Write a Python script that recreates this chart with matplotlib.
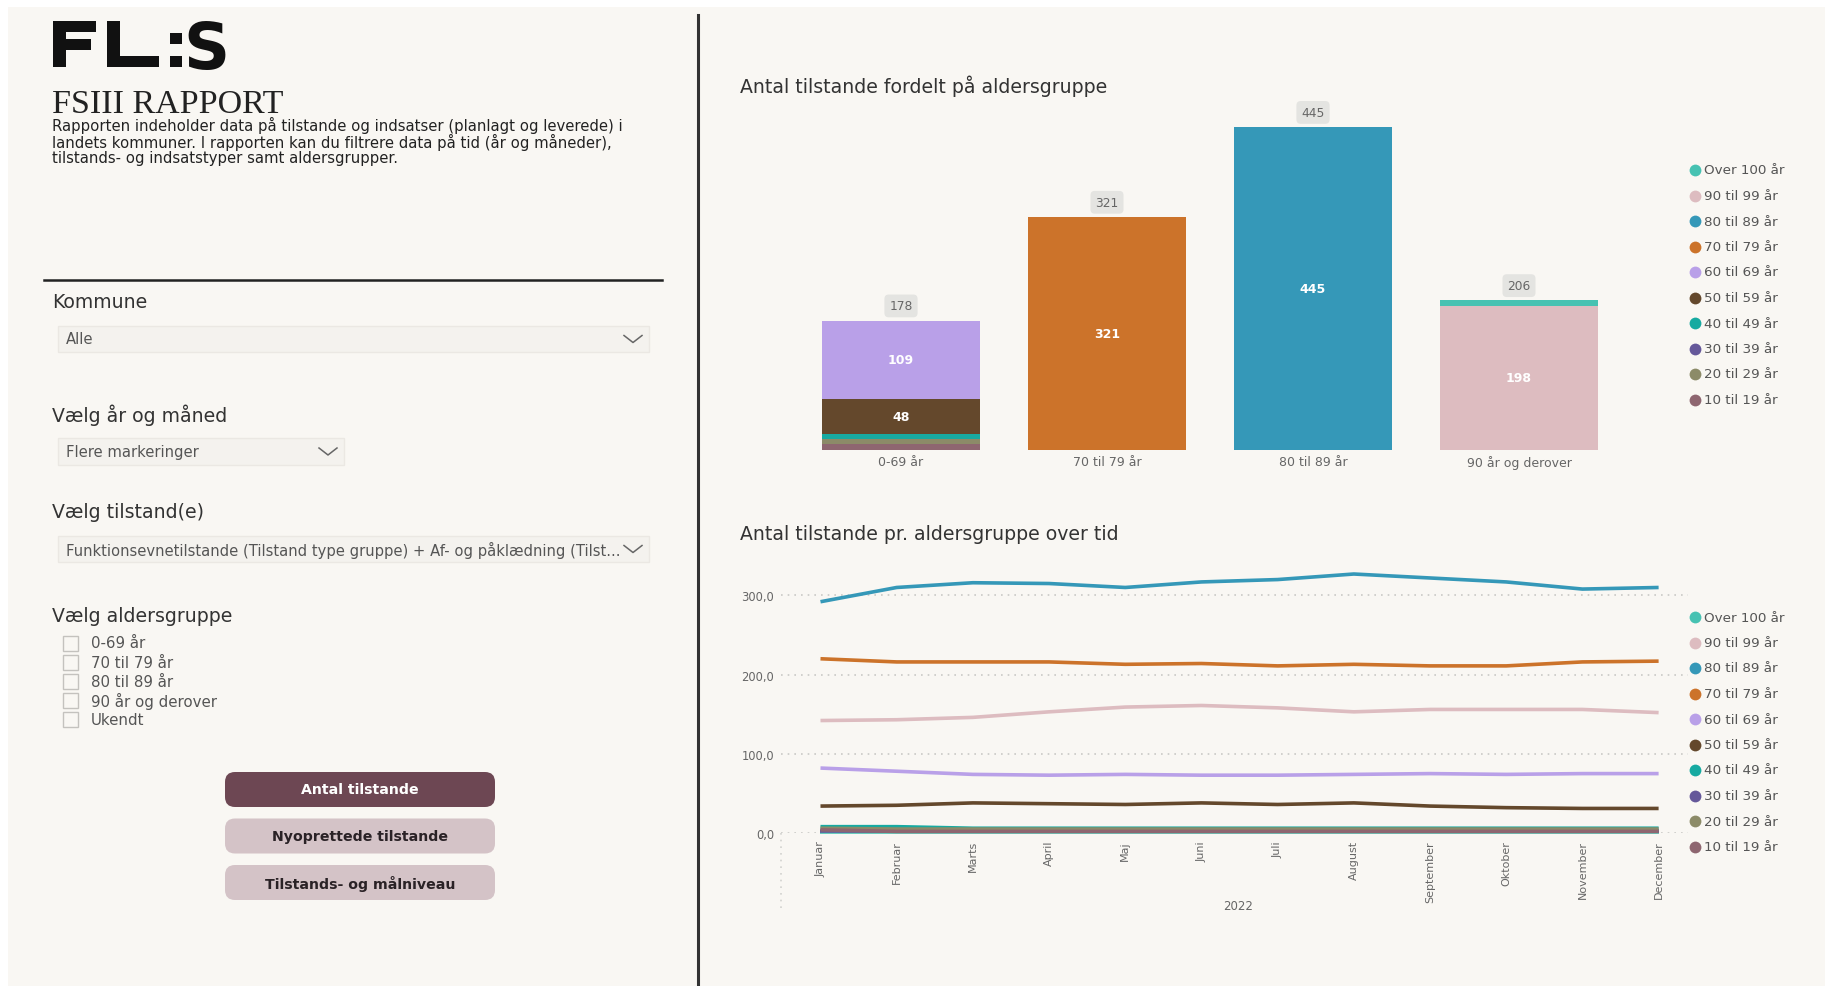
import matplotlib
matplotlib.use("Agg")
import matplotlib.pyplot as plt
from matplotlib.patches import Rectangle, FancyBboxPatch
import numpy as np

plt.rcParams['font.family'] = ['DejaVu Sans']

W, H = 1825, 987
BG = '#f9f7f3'

# --- data -------------------------------------------------------------------
bar_groups = ['0-69 år', '70 til 79 år', '80 til 89 år', '90 år og derover']

# stack order, bottom to top
stack_bands = ['10 til 19 år', '20 til 29 år', '30 til 39 år', '40 til 49 år',
               '50 til 59 år', '60 til 69 år', '70 til 79 år', '80 til 89 år',
               '90 til 99 år', 'Over 100 år']
counts_0_69 = [7, 7, 0, 7, 48, 109, 0, 0, 0, 0]
counts_70_79 = [0, 0, 0, 0, 0, 0, 321, 0, 0, 0]
counts_80_89 = [0, 0, 0, 0, 0, 0, 0, 445, 0, 0]
counts_90_plus = [0, 0, 0, 0, 0, 0, 0, 0, 198, 8]

band_colors = {
    'Over 100 år': '#47c2b2',
    '90 til 99 år': '#ddbcc0',
    '80 til 89 år': '#3598b8',
    '70 til 79 år': '#cc732a',
    '60 til 69 år': '#b9a0e8',
    '50 til 59 år': '#64482c',
    '40 til 49 år': '#17aaa1',
    '30 til 39 år': '#65589a',
    '20 til 29 år': '#8c8b68',
    '10 til 19 år': '#8e6670',
}
legend_order = ['Over 100 år', '90 til 99 år', '80 til 89 år', '70 til 79 år',
                '60 til 69 år', '50 til 59 år', '40 til 49 år', '30 til 39 år',
                '20 til 29 år', '10 til 19 år']

months = ['Januar', 'Februar', 'Marts', 'April', 'Maj', 'Juni', 'Juli',
          'August', 'September', 'Oktober', 'November', 'December']
line_over_100 = [1, 1, 1, 1, 1, 1, 1, 1, 1, 1, 1, 1]
line_90_99 = [142, 143, 146, 153, 159, 161, 158, 153, 156, 156, 156, 152]
line_80_89 = [292, 310, 316, 315, 310, 317, 320, 327, 322, 317, 308, 310]
line_70_79 = [220, 216, 216, 216, 213, 214, 211, 213, 211, 211, 216, 217]
line_60_69 = [82, 78, 74, 73, 74, 73, 73, 74, 75, 74, 75, 75]
line_50_59 = [34, 35, 38, 37, 36, 38, 36, 38, 34, 32, 31, 31]
line_40_49 = [8, 8, 6, 6, 6, 6, 6, 6, 6, 6, 6, 6]
line_30_39 = [3, 3, 3, 3, 3, 3, 3, 3, 3, 3, 3, 3]
line_20_29 = [6, 5, 5, 5, 5, 5, 5, 5, 5, 5, 5, 5]
line_10_19 = [4, 2, 2, 2, 2, 2, 2, 2, 2, 2, 2, 2]
line_series = [line_over_100, line_90_99, line_80_89, line_70_79, line_60_69,
               line_50_59, line_40_49, line_30_39, line_20_29, line_10_19]
year_label = '2022'

kommune_value = 'Alle'
periode_value = 'Flere markeringer'
tilstand_value = 'Funktionsevnetilstande (Tilstand type gruppe) + Af- og påklædning (Tilst...'
age_filters = ['0-69 år', '70 til 79 år', '80 til 89 år', '90 år og derover', 'Ukendt']
buttons = ['Antal tilstande', 'Nyoprettede tilstande', 'Tilstands- og målniveau']

intro = ('Rapporten indeholder data på tilstande og indsatser (planlagt og leverede) i\n'
         'landets kommuner. I rapporten kan du filtrere data på tid (år og måneder),\n'
         'tilstands- og indsatstyper samt aldersgrupper.')


# --- canvas in pixel coordinates -------------------------------------------
fig = plt.figure(figsize=(W / 100, H / 100), dpi=100, facecolor='white')
ui = fig.add_axes([0, 0, 1, 1])
ui.set_xlim(0, W)
ui.set_ylim(H, 0)
ui.axis('off')
ui.set_zorder(0)

ui.add_patch(Rectangle((8, 8), W - 8, H - 8, fc=BG, ec='none'))
ui.plot([698, 698], [16, H], color='#333333', lw=2.2)
ui.plot([44, 662], [280.5, 280.5], color='#222222', lw=1.8)


def px_axes(left, top, right, bottom):
    return fig.add_axes([left / W, 1 - bottom / H, (right - left) / W, (bottom - top) / H])


# logo
ink = '#111111'
for x, y, w, h in [(53, 22, 13, 46), (53, 22, 43, 11), (53, 40, 38, 11),
                   (107, 22, 13, 46), (107, 57, 52, 11),
                   (170, 34, 12, 11), (170, 57, 12, 11)]:
    ui.add_patch(Rectangle((x, y), w, h, fc=ink, ec='none'))
ui.text(206, 68.5, 'S', fontsize=46, fontweight='bold', color=ink,
        ha='center', va='baseline')

ui.text(52, 113, 'FSIII RAPPORT', fontsize=24.5, family='Liberation Serif',
        color='#222222', va='baseline')
ui.text(52, 117, intro, fontsize=10.7, color='#222222', va='top', linespacing=1.0)

# filter panes
head = dict(fontsize=13.6, color='#333333', va='center')
ui.text(52, 303, 'Kommune', **head)
ui.text(52, 415.5, 'Vælg år og måned', **head)
ui.text(52, 513, 'Vælg tilstand(e)', **head)
ui.text(52, 616, 'Vælg aldersgruppe', **head)


def dropdown(x0, y0, x1, y1, label):
    ui.add_patch(Rectangle((x0, y0), x1 - x0, y1 - y0, fc='#f4f2ee', ec='#ebe8e3', lw=1))
    ui.text(x0 + 8, (y0 + y1) / 2, label, fontsize=10.6, color='#555555', va='center')
    cx, cy = x1 - 16, (y0 + y1) / 2
    ui.plot([cx - 9, cx, cx + 9], [cy - 3.5, cy + 3.5, cy - 3.5], color='#666666', lw=1.1)


dropdown(58, 327, 649, 353, kommune_value)
dropdown(58, 439, 344, 466, periode_value)
dropdown(58, 537, 649, 563, tilstand_value)

for i, lab in enumerate(age_filters):
    cy = 644 + i * 19.2
    ui.add_patch(Rectangle((63, cy - 7.5), 15, 15, fc='none', ec='#c4c2be', lw=1))
    ui.text(91, cy, lab, fontsize=10.8, color='#555555', va='center')

btn_colors = ['#6d4753', '#d4c3c7', '#d4c3c7']
btn_text = ['white', '#2a2226', '#2a2226']
for i, (lab, fc, tc) in enumerate(zip(buttons, btn_colors, btn_text)):
    y0 = 773 + i * 46.5
    ui.add_patch(FancyBboxPatch((225, y0), 270, 35, boxstyle='round,pad=0,rounding_size=10',
                                fc=fc, ec='none'))
    ui.text(360, y0 + 17.5, lab, fontsize=10.2, color=tc, fontweight='bold',
            ha='center', va='center')

# titles
title = dict(fontsize=13.6, color='#333333', va='center')
ui.text(740, 86, 'Antal tilstande fordelt på aldersgruppe', **title)
ui.text(740, 534, 'Antal tilstande pr. aldersgruppe over tid', **title)


def legend(x, y0):
    for i, band in enumerate(legend_order):
        y = y0 + i * 25.5
        ui.plot(x, y, 'o', ms=8.5, color=band_colors[band], mec='none')
        ui.text(x + 9, y, band, fontsize=9.7, color='#555555', va='center')


legend(1695, 171)
legend(1695, 618)

# --- stacked bar chart ------------------------------------------------------
scale_bar = 0.7247  # px per unit
ax1 = px_axes(798, 450.5 - 470 * scale_bar, 1622, 450.5)
ax1.set_facecolor('none')
ax1.set_zorder(1)
xs = np.arange(len(bar_groups))
stack = np.array([counts_0_69, counts_70_79, counts_80_89, counts_90_plus]).T
bottom = np.zeros(len(bar_groups))
for band, vals in zip(stack_bands, stack):
    ax1.bar(xs, vals, 0.767, bottom=bottom, color=band_colors[band], lw=0)
    for x, v, b in zip(xs, vals, bottom):
        if v >= 30:
            ax1.text(x, b + v / 2, f'{v}', ha='center', va='center', color='white',
                     fontsize=9, fontweight='bold')
    bottom += vals
for x, total in zip(xs, bottom):
    ax1.annotate(f'{int(total)}', (x, total), xytext=(0, 10.5), textcoords='offset points',
                 ha='center', va='center', fontsize=8.8, color='#666666',
                 bbox=dict(boxstyle='round,pad=0.4,rounding_size=0.35', fc='#e4e4e1', ec='none'))
ax1.set_xlim(-0.5, 3.5)
ax1.set_ylim(0, 470)
ax1.set_xticks(xs, bar_groups, fontsize=9, color='#666666')
ax1.tick_params(axis='x', length=0, pad=4)
ax1.set_yticks([])
for s in ax1.spines.values():
    s.set_visible(False)

# --- line chart ---------------------------------------------------------------
scale_line = 0.792
month_step = 76.2
ax2 = px_axes(781, 834 - 345 * scale_line, 1688, 834)
ax2.set_facecolor('none')
ax2.set_zorder(1)
mx = np.arange(len(months))
for band, vals in zip(legend_order, line_series):
    ax2.plot(mx, vals, color=band_colors[band], lw=2.6, clip_on=False,
             solid_capstyle='butt', solid_joinstyle='round')
ax2.set_xlim(-(820.5 - 781) / month_step, 11 + (1688 - 1658.6) / month_step)
ax2.set_ylim(0, 345)
ax2.set_yticks([0, 100, 200, 300], ['0,0', '100,0', '200,0', '300,0'],
               fontsize=8.3, color='#666666')
ax2.set_xticks(mx, months, rotation=90, fontsize=8, color='#666666')
ax2.tick_params(axis='both', length=0)
ax2.tick_params(axis='y', pad=5)
ax2.tick_params(axis='x', pad=5)
ax2.yaxis.grid(True, linestyle=(0, (1, 3)), color='#c9c9c6', lw=1.2)
ax2.set_axisbelow(True)
for s in ax2.spines.values():
    s.set_visible(False)
ui.plot([781, 781], [834, 913], color='#d2d2cf', lw=1.2, ls=(0, (1, 3)))
ui.text(1238, 907, year_label, fontsize=8.5, color='#666666', ha='center', va='center')

fig.savefig('out.png', dpi=100, facecolor=fig.get_facecolor())
